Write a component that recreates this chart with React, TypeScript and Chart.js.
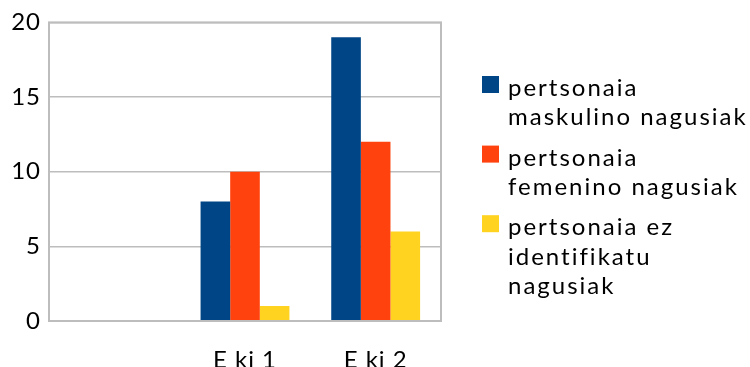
import React, { useEffect, useRef } from "react";
import { Chart, registerables } from "chart.js";

Chart.register(...registerables);

const categories = ["", "E ki 1", "E ki 2"];
const maleValues = [null, 8, 19];
const femaleValues = [null, 10, 12];
const unidentifiedValues = [null, 1, 6];
const seriesLabels = [
  ["pertsonaia", "maskulino nagusiak"],
  ["pertsonaia", "femenino nagusiak"],
  ["pertsonaia ez", "identifikatu", "nagusiak"],
];
const seriesColors = ["#004586", "#ff420e", "#ffd320"];
const yTicks = [0, 5, 10, 15, 20];

const FONT = "Lato, 'Open Sans', sans-serif";

const spacingPlugin = {
  id: "spacing",
  beforeDraw(chart: any) {
    chart.ctx.letterSpacing = "1px";
  },
};

const framePlugin = {
  id: "frame",
  afterDatasetsDraw(chart: any) {
    const { ctx, chartArea } = chart;
    ctx.save();
    ctx.strokeStyle = "#bdbdbd";
    ctx.lineWidth = 2;
    ctx.strokeRect(chartArea.left, chartArea.top, chartArea.right - chartArea.left, chartArea.bottom - chartArea.top);
    ctx.restore();
  },
};

const legendPlugin = {
  id: "customLegend",
  afterDraw(chart: any) {
    const { ctx, chartArea } = chart;
    const boxX = chartArea.right + 41;
    const textX = chartArea.right + 67;
    const lineH = 29.3;
    const itemGap = 11;
    let baseline = 96;
    ctx.save();
    ctx.font = `24px ${FONT}`;
    ctx.letterSpacing = "2px";
    ctx.textBaseline = "alphabetic";
    ctx.textAlign = "left";
    chart.data.datasets.forEach((ds: any, i: number) => {
      const lines: string[] = seriesLabels[i];
      ctx.fillStyle = ds.backgroundColor;
      ctx.fillRect(boxX, baseline - 20, 17, 17);
      ctx.fillStyle = "#000";
      lines.forEach((ln, j) => {
        ctx.fillText(ln, textX, baseline + j * lineH);
      });
      baseline += lines.length * lineH + itemGap;
    });
    ctx.restore();
  },
};

export default function App() {
  const ref = useRef<HTMLCanvasElement | null>(null);
  useEffect(() => {
    if (!ref.current) return;
    Chart.defaults.font.family = FONT;
    Chart.defaults.font.size = 24;
    Chart.defaults.color = "#000";
    const chart = new Chart(ref.current, {
      type: "bar",
      data: {
        labels: categories,
        datasets: [
          { label: seriesLabels[0].join(" "), data: maleValues as any, backgroundColor: seriesColors[0] },
          { label: seriesLabels[1].join(" "), data: femaleValues as any, backgroundColor: seriesColors[1] },
          { label: seriesLabels[2].join(" "), data: unidentifiedValues as any, backgroundColor: seriesColors[2] },
        ],
      },
      options: {
        responsive: false,
        animation: false,
        layout: { padding: { top: 22, right: 309, left: 0, bottom: 0 } },
        datasets: { bar: { categoryPercentage: 0.68, barPercentage: 1, borderWidth: 0 } },
        plugins: { legend: { display: false }, tooltip: { enabled: false } },
        scales: {
          x: {
            grid: { display: false },
            border: { display: false },
            ticks: { padding: 17, color: "#000", font: { size: 24, family: FONT } },
            afterFit(scale: any) {
              scale.height = 46;
            },
          },
          y: {
            min: 0,
            max: 20,
            afterBuildTicks(scale: any) {
              scale.ticks = yTicks.map((v) => ({ value: v }));
            },
            grid: { color: "#bdbdbd", lineWidth: 1.5, drawTicks: false },
            border: { display: false },
            ticks: { padding: 8, color: "#000", font: { size: 24, family: FONT } },
            afterFit(scale: any) {
              scale.width = 49;
            },
          },
        },
      },
      plugins: [spacingPlugin, framePlugin, legendPlugin],
    });
    return () => chart.destroy();
  }, []);
  return (
    <div style={{ position: "absolute", left: 0, top: 0, width: 750, height: 367, background: "#fff" }}>
      <canvas ref={ref} width={750} height={367} />
    </div>
  );
}
